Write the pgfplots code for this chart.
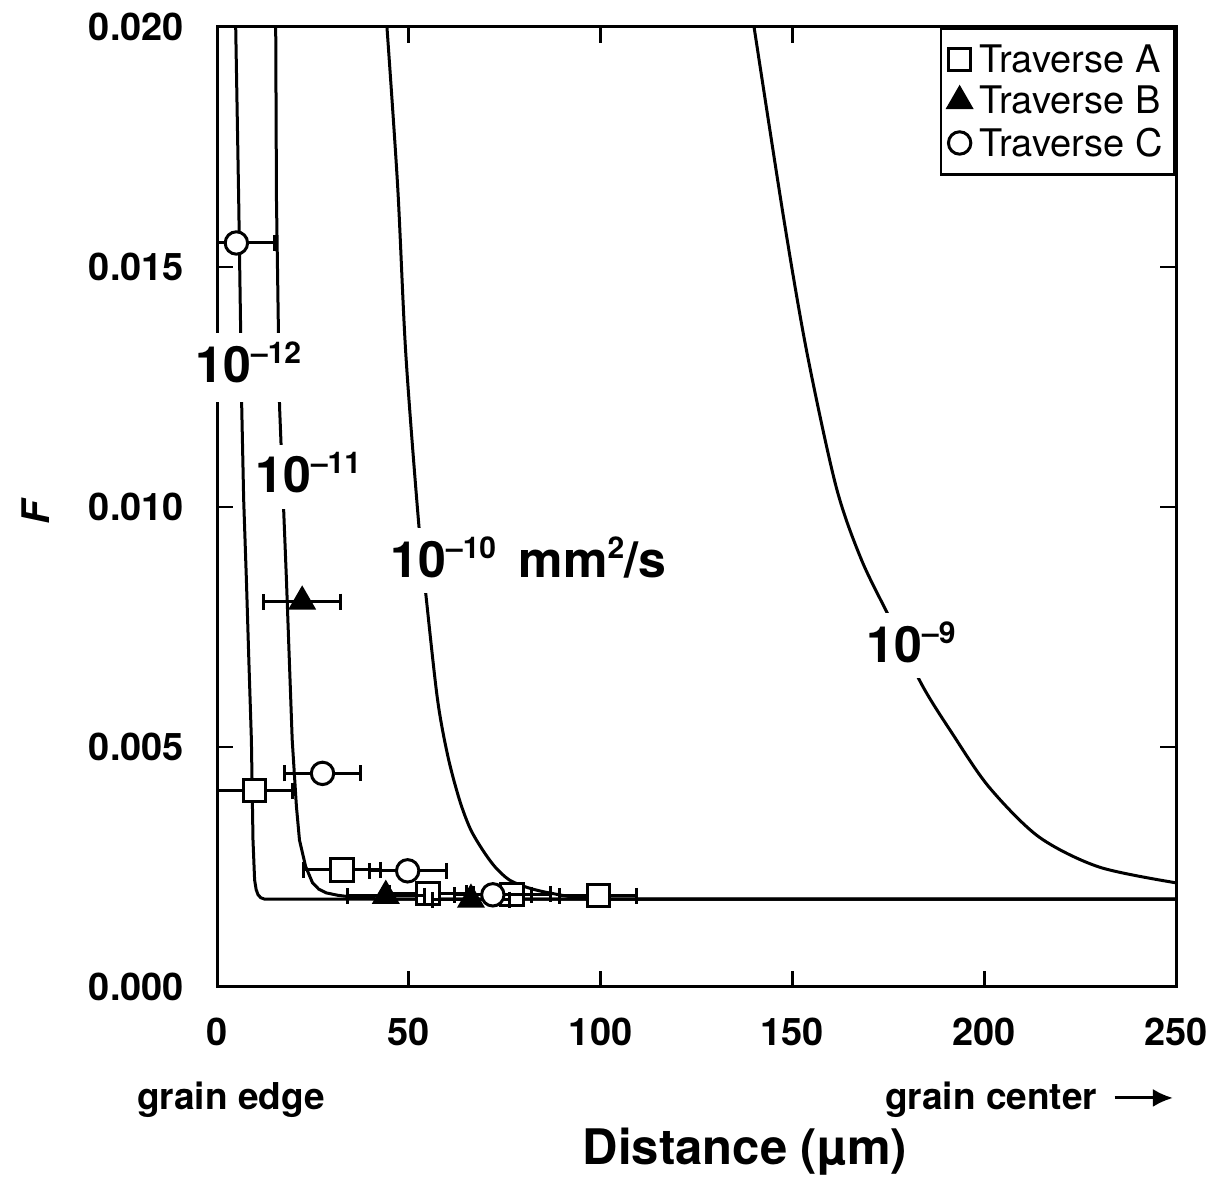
\documentclass[border=0pt]{standalone}
\usepackage{pgfplots}
\pgfplotsset{compat=1.18}
\usepackage{fontspec}
\setmainfont{TeX Gyre Heros}
\usetikzlibrary{arrows.meta}
\newcommand\sups[1]{\raisebox{9.5pt}{\fontsize{15}{15}\selectfont #1}}
\begin{document}
\begin{tikzpicture}
\begin{axis}[
  name=ax,
  scale only axis,
  width=479.5pt, height=480pt,
  xmin=0, xmax=250, ymin=0, ymax=0.02,
  xtick={0,50,100,150,200,250},
  ytick={0,0.005,0.01,0.015,0.02},
  scaled y ticks=false,
  tick align=inside,
  major tick length=8pt,
  tick style={black, line width=1.4pt},
  axis line style={line width=1.5pt},
  tick label style={font=\bfseries\fontsize{19}{21}\selectfont},
  /pgf/number format/assume math mode=true,
  yticklabel style={/pgf/number format/.cd, fixed, fixed zerofill, precision=3, /tikz/.cd, xshift=-13pt},
  xticklabel style={yshift=-12pt},
  clip mode=individual,
  legend style={at={(1,1)}, anchor=north east, draw=black, line width=1.4pt,
    font=\fontsize{19}{20}\selectfont, inner xsep=3pt, inner ysep=5pt, row sep=0pt,
    nodes={inner sep=3pt, text depth=1pt}},
  legend cell align=left,
  legend image code/.code={\path[draw=none, fill=none] (-3pt,0pt) -- (7pt,0pt); \draw[#1] plot coordinates {(0pt,0pt)};},
]
% diffusion curves
\addplot[black, line width=1.5pt, forget plot] coordinates {
 (4.87,0.0200) (5.65,0.0164) (6.17,0.01363) (6.43,0.01213) (6.95,0.01015)
 (7.66,0.00848) (8.3,0.0068) (8.96,0.00515) (9.38,0.00306) (9.8,0.00223)
 (10.2,0.00203) (10.7,0.00192) (11.4,0.00186) (12.4,0.00183) (250,0.00183)};
\addplot[black, line width=1.5pt, forget plot] coordinates {
 (15.3,0.0200) (15.5,0.0164) (16.3,0.0121) (18.1,0.00848) (19.6,0.00515)
 (20.7,0.00376) (21.5,0.00306) (23.1,0.00251) (24.9,0.00217) (26.5,0.00204)
 (28.5,0.00196) (31.5,0.00191) (34.5,0.00188) (42.4,0.00183) (250,0.00183)};
\addplot[black, line width=1.5pt, forget plot, smooth, tension=0.5] coordinates {
 (44.3,0.0200) (47.1,0.01667) (49.2,0.01321) (52.5,0.00973) (54.6,0.00806)
 (57.5,0.00598) (60.2,0.00480) (63.2,0.00390) (66.0,0.00330) (69.2,0.00286)
 (72.5,0.00250) (76.2,0.00223) (81,0.00207) (86.6,0.00196) (96.3,0.00184)
 (110,0.00183) (250,0.00183)};
\addplot[black, line width=1.5pt, forget plot, smooth] coordinates {
 (140,0.0200) (147.8,0.01598) (153.8,0.01321) (161.4,0.01042) (168,0.00890)
 (175.6,0.00765) (183.8,0.00629) (191.6,0.00529) (201.2,0.00417)
 (214.2,0.00313) (229.9,0.0025) (250,0.00217)};
% data
\addplot[only marks, mark=square*, mark size=5.6pt,
  mark options={fill=white, draw=black, line width=1.5pt},
  error bars/.cd, x dir=both, x explicit,
  error bar style={line width=1.5pt, black},
  error mark options={rotate=90, mark size=4pt, line width=1.5pt, black}]
  coordinates {
 (9.8,0.00409) +- (10,0)
 (32.6,0.00244) +- (10,0)
 (55,0.00195) +- (10,0)
 (76.9,0.00193) +- (10,0)
 (99.4,0.00190) +- (10,0)};
\addlegendentry{Traverse A}
\addplot[only marks, mark=triangle*, mark size=7.3pt,
  mark options={fill=black, draw=black, line width=0.8pt},
  error bars/.cd, x dir=both, x explicit,
  error bar style={line width=1.5pt, black},
  error mark options={rotate=90, mark size=4pt, line width=1.5pt, black}]
  coordinates {
 (22.2,0.00803) +- (10,0)
 (44,0.00190) +- (10,0)
 (66.2,0.00182) +- (10,0)};
\addlegendentry{Traverse B}
\addplot[only marks, mark=*, mark size=5.6pt,
  mark options={fill=white, draw=black, line width=1.5pt},
  error bars/.cd, x dir=both, x explicit,
  error bar style={line width=1.5pt, black},
  error mark options={rotate=90, mark size=4pt, line width=1.5pt, black}]
  coordinates {
 (5.05,0.0155) +- (10,0)
 (27.5,0.00445) +- (10,0)
 (49.7,0.00242) +- (10,0)
 (71.9,0.00192) +- (10,0)};
\addlegendentry{Traverse C}
% curve labels
\node[anchor=base west, fill=white, inner xsep=2pt, inner ysep=4pt, text depth=6pt,
  font=\bfseries\fontsize{25}{28}\selectfont] at (rel axis cs:-0.027,0.630) {10\sups{–12}};
\node[anchor=base west, fill=white, inner xsep=2pt, inner ysep=4pt, text depth=4pt,
  font=\bfseries\fontsize{25}{28}\selectfont] at (rel axis cs:0.0355,0.5146) {10\sups{–11}};
\node[anchor=base west, fill=white, inner xsep=2pt, inner ysep=4pt, text depth=4pt,
  font=\bfseries\fontsize{25}{28}\selectfont] at (rel axis cs:0.1763,0.427) {10\sups{–10}\hspace{0.45em}mm\sups{2}/s};
\node[anchor=base west, fill=white, inner xsep=2pt, inner ysep=4pt, text depth=4pt,
  font=\bfseries\fontsize{25}{28}\selectfont] at (rel axis cs:0.6727,0.3385) {10\sups{–9}};
% axis texts
\node[anchor=base west, font=\bfseries\fontsize{18.5}{20}\selectfont] at (rel axis cs:-0.0907,-0.128) {grain edge};
\node[anchor=base east, font=\bfseries\fontsize{18.5}{20}\selectfont] at (rel axis cs:0.9250,-0.128) {grain center};
\draw[line width=1.5pt, -{Latex[length=10pt, width=9pt]}] (rel axis cs:0.9360,-0.1156) -- (rel axis cs:0.9968,-0.1156);
\node[font=\bfseries\fontsize{24.5}{28}\selectfont] at (rel axis cs:0.5505,-0.1715) {Distance (µm)};
\node[rotate=90, font=\bfseries\itshape\fontsize{19}{21}\selectfont] at (rel axis cs:-0.1890,0.494) {F};
\coordinate (BL) at (rel axis cs:-0.2263,-0.2083);
\coordinate (TR) at (rel axis cs:1.0417,1.0281);
\end{axis}
\path (BL) rectangle (TR);
\end{tikzpicture}
\end{document}
